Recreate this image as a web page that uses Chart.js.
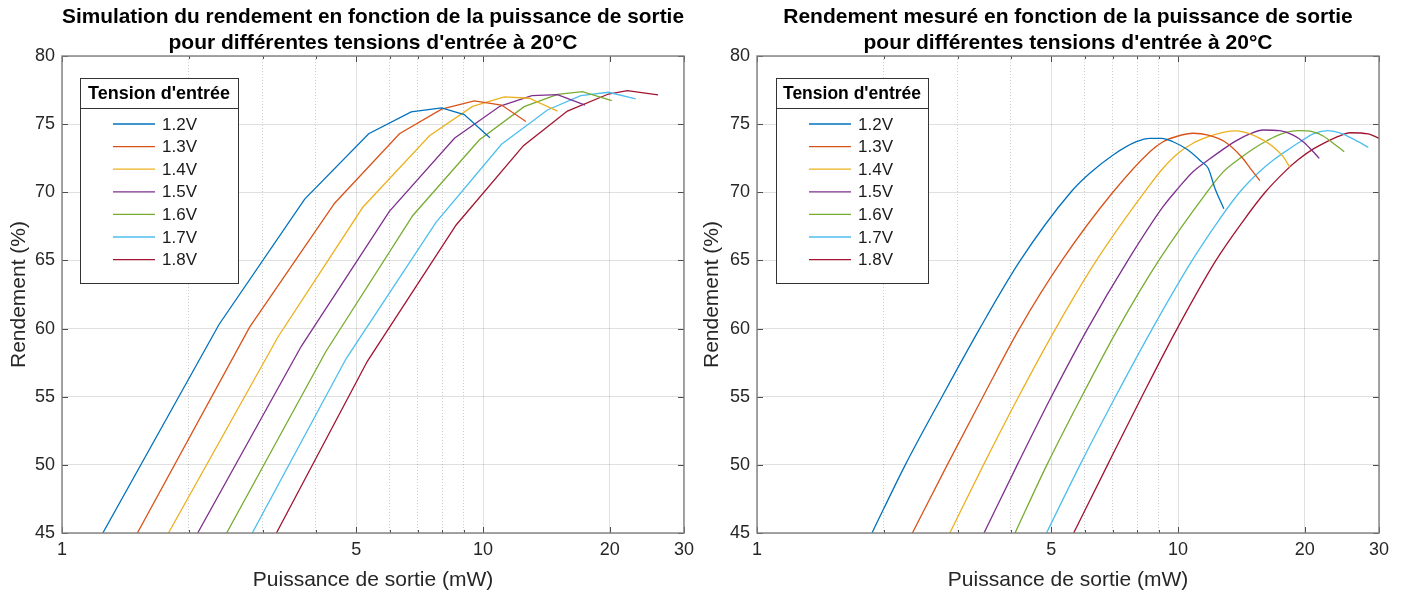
<!DOCTYPE html>
<html>
<head>
<meta charset="utf-8">
<script src="https://cdn.jsdelivr.net/npm/chart.js@4/dist/chart.umd.min.js"></script>
<style>
  html, body { margin: 0; padding: 0; background: #fff; }
  #wrap { position: relative; width: 1405px; height: 594px; }
  #sim { position: absolute; left: 0; top: 0; }
  #mes { position: absolute; left: 700px; top: 0; }
</style>
</head>
<body>
<div id="wrap">
  <canvas id="sim" width="700" height="594"></canvas>
  <canvas id="mes" width="705" height="594"></canvas>
</div>
<script>
// legend labels + MATLAB default line colours
const tensions = ["1.2V", "1.3V", "1.4V", "1.5V", "1.6V", "1.7V", "1.8V"];
const colors = ["#0072BD", "#D95319", "#EDB120", "#7E2F8E", "#77AC30", "#4DBEEE", "#A2142F"];

// x axis (log): grid positions and labelled ticks
const xGrid = [1, 2, 3, 4, 5, 6, 7, 8, 9, 10, 20, 30];
const xLabels = [1, 5, 10, 20, 30];
const yTicks = [45, 50, 55, 60, 65, 70, 75, 80];

// --- simulation (left): output power (mW) / efficiency (%)
const simP12 = [1.25, 2.36, 3.77, 5.35, 6.75, 7.97, 9.02, 10.38];
const simE12 = [45.0, 60.3, 69.5, 74.3, 75.9, 76.2, 75.7, 74.0];
const simP13 = [1.51, 2.79, 4.44, 6.33, 7.97, 9.53, 11.06, 12.64];
const simE13 = [45.0, 60.1, 69.2, 74.3, 76.1, 76.7, 76.4, 75.2];
const simP14 = [1.79, 3.26, 5.18, 7.46, 9.44, 11.23, 12.87, 15.02];
const simE14 = [45.0, 59.4, 68.9, 74.15, 76.3, 77.0, 76.9, 75.96];
const simP15 = [2.10, 3.70, 5.99, 8.55, 10.98, 13.06, 15.02, 17.47];
const simE15 = [45.0, 58.7, 68.6, 73.96, 76.33, 77.09, 77.16, 76.4];
const simP16 = [2.46, 4.23, 6.81, 9.79, 12.52, 15.02, 17.21, 20.21];
const simE16 = [45.0, 58.3, 68.3, 73.84, 76.28, 77.19, 77.38, 76.72];
const simP17 = [2.83, 4.73, 7.73, 11.06, 14.22, 17.06, 19.85, 23.04];
const simE17 = [45.0, 57.8, 67.8, 73.52, 76.04, 77.09, 77.34, 76.85];
const simP18 = [3.23, 5.31, 8.63, 12.47, 15.86, 19.85, 22.0, 26.03];
const simE18 = [45.0, 57.6, 67.6, 73.42, 75.96, 77.21, 77.46, 77.14];

// --- measured (right)
const mesP12 = [1.875, 2.25, 2.75, 3.38, 4.22, 5.56, 6.17, 7.01, 7.96, 8.57, 9.13, 9.73, 10.56, 11.36, 11.79, 12.23, 12.84];
const mesE12 = [45, 50, 55, 60, 65, 70, 71.39, 72.74, 73.71, 73.96, 73.96, 73.71, 73.1, 72.25, 71.76, 70.3, 68.8];
const mesP13 = [2.339, 2.83, 3.44, 4.2, 5.3, 7.0, 8.57, 9.21, 10.0, 10.85, 11.79, 12.91, 14.14, 14.94, 15.64];
const mesE13 = [45, 50, 55, 60, 65, 70, 72.98, 73.71, 74.13, 74.33, 74.2, 73.71, 72.61, 71.64, 70.85];
const mesP14 = [2.87, 3.45, 4.18, 5.12, 6.4, 8.57, 9.21, 10.0, 10.85, 11.79, 12.79, 13.76, 14.8, 15.64, 16.81, 17.77, 18.42];
const mesE14 = [45, 50, 55, 60, 65, 70.54, 71.76, 72.86, 73.6, 74.08, 74.4, 74.5, 74.28, 73.96, 73.35, 72.61, 71.83];
const mesP15 = [3.46, 4.15, 5.0, 6.1, 7.6, 9.21, 10.0, 10.85, 11.79, 12.79, 13.76, 14.8, 15.92, 17.44, 18.76, 19.82, 20.75, 21.64];
const mesE15 = [45, 50, 55, 60, 65, 68.94, 70.29, 71.51, 72.37, 73.15, 73.79, 74.28, 74.57, 74.52, 74.2, 73.71, 73.1, 72.49];
const mesP16 = [4.1, 4.88, 5.9, 7.2, 9.0, 11.7, 12.8, 13.9, 15.1, 16.3, 17.6, 19.3, 20.3, 22.1, 23.35, 24.8];
const mesE16 = [45, 50, 55, 60, 65, 70.0, 71.5, 72.4, 73.2, 73.8, 74.28, 74.52, 74.5, 74.13, 73.6, 72.98];
const mesP17 = [4.87, 5.85, 7.1, 8.69, 10.8, 12.4, 14.0, 15.6, 16.9, 18.4, 19.7, 21.0, 22.7, 24.4, 26.3, 28.3];
const mesE17 = [45, 50, 55, 60, 65, 67.8, 70.0, 71.5, 72.4, 73.2, 73.8, 74.3, 74.52, 74.33, 73.84, 73.3];
const mesP18 = [5.65, 6.8, 8.2, 9.95, 12.3, 14.2, 16.1, 17.9, 19.3, 21.0, 22.5, 24.0, 25.6, 28.3, 30];
const mesE18 = [45, 50, 55, 60, 65, 67.8, 70.0, 71.5, 72.4, 73.2, 73.7, 74.1, 74.37, 74.28, 73.96];

const simSeries = [[simP12, simE12], [simP13, simE13], [simP14, simE14], [simP15, simE15], [simP16, simE16], [simP17, simE17], [simP18, simE18]];
const mesSeries = [[mesP12, mesE12], [mesP13, mesE13], [mesP14, mesE14], [mesP15, mesE15], [mesP16, mesE16], [mesP17, mesE17], [mesP18, mesE18]];

Chart.defaults.font.family = "'Liberation Sans', Arial, Helvetica, sans-serif";
Chart.defaults.color = "#262626";

// MATLAB-like box, inward ticks and boxed legend with a title
const matlabFrame = {
  id: "matlabFrame",
  afterDraw(chart, args, opts) {
    const { ctx, chartArea: a, scales: { x, y } } = chart;
    ctx.save();
    ctx.strokeStyle = "#4d4d4d";
    ctx.lineWidth = 1;
    ctx.beginPath();
    yTicks.forEach(v => {
      const py = Math.round(y.getPixelForValue(v)) + 0.5;
      ctx.moveTo(a.left, py); ctx.lineTo(a.left + 6, py);
      ctx.moveTo(a.right, py); ctx.lineTo(a.right - 6, py);
    });
    xGrid.forEach(v => {
      const px = Math.round(x.getPixelForValue(v)) + 0.5;
      const len = xLabels.includes(v) ? 6 : 3;
      ctx.moveTo(px, a.bottom); ctx.lineTo(px, a.bottom - len);
      ctx.moveTo(px, a.top); ctx.lineTo(px, a.top + len);
    });
    ctx.stroke();

    ctx.strokeStyle = "#7f7f7f";
    ctx.lineWidth = 1.4;
    ctx.strokeRect(a.left, a.top, a.right - a.left, a.bottom - a.top);

    // legend
    const lx = opts.x, ly = opts.y, lw = opts.w, lh = opts.h;
    ctx.fillStyle = "#fff";
    ctx.fillRect(lx, ly, lw, lh);
    ctx.strokeStyle = "#333";
    ctx.lineWidth = 1;
    ctx.strokeRect(lx + 0.5, ly + 0.5, lw, lh);
    ctx.beginPath();
    ctx.moveTo(lx, ly + 30.5); ctx.lineTo(lx + lw, ly + 30.5);
    ctx.stroke();
    ctx.fillStyle = "#000";
    ctx.font = "bold " + opts.titleSize + "px 'Liberation Sans', Arial, sans-serif";
    ctx.textAlign = "center";
    ctx.textBaseline = "middle";
    ctx.fillText("Tension d'entrée", lx + lw / 2, ly + 16);
    ctx.font = "17px 'Liberation Sans', Arial, sans-serif";
    ctx.textAlign = "left";
    chart.data.datasets.forEach((ds, i) => {
      const iy = ly + 46 + i * 22.6;
      ctx.strokeStyle = ds.borderColor;
      ctx.lineWidth = 1.3;
      ctx.beginPath();
      ctx.moveTo(lx + 33, iy); ctx.lineTo(lx + 75, iy);
      ctx.stroke();
      ctx.fillStyle = "#1a1a1a";
      ctx.fillText(ds.label, lx + 82, iy + 1);
    });
    ctx.restore();
  }
};

function makeChart(id, titleLines, series, yWidth, padRight, yTitlePad, smooth, legend) {
  const datasets = series.map((s, i) => ({
    label: tensions[i],
    data: s[0].map((p, k) => ({ x: p, y: s[1][k] })),
    borderColor: colors[i],
    backgroundColor: colors[i],
    borderWidth: 1.3,
    pointRadius: 0,
    tension: 0,
    cubicInterpolationMode: smooth ? "monotone" : "default",
    fill: false
  }));
  return new Chart(document.getElementById(id), {
    type: "line",
    data: { datasets },
    plugins: [matlabFrame],
    options: {
      responsive: false,
      animation: false,
      devicePixelRatio: 1,
      layout: { padding: { left: 0, right: padRight, top: 0, bottom: 0 } },
      plugins: {
        legend: { display: false },
        tooltip: { enabled: false },
        title: {
          display: true,
          text: titleLines,
          fullSize: false,
          color: "#000",
          font: { size: 21, weight: "bold", lineHeight: 1.2 },
          padding: { top: 5, bottom: 0.6 }
        },
        matlabFrame: legend
      },
      scales: {
        x: {
          type: "logarithmic",
          min: 1,
          max: 30,
          afterBuildTicks: scale => { scale.ticks = xGrid.map(v => ({ value: v })); },
          afterFit: scale => { scale.height = 61; },
          ticks: {
            autoSkip: false,
            maxRotation: 0,
            minRotation: 0,
            padding: 6,
            font: { size: 18 },
            color: "#262626",
            callback: v => xLabels.includes(v) ? String(v) : ""
          },
          grid: {
            drawTicks: false,
            color: c => (c.tick && !xLabels.includes(c.tick.value)) ? "rgba(0,0,0,0.2)" : "rgba(0,0,0,0.12)",
            lineWidth: 1
          },
          border: {
            display: false,
            dash: c => (c.tick && !xLabels.includes(c.tick.value)) ? [1, 2] : []
          },
          title: {
            display: true,
            text: "Puissance de sortie (mW)",
            color: "#262626",
            font: { size: 21, lineHeight: 1.2 },
            padding: { top: 0, bottom: 1 }
          }
        },
        y: {
          min: 45,
          max: 80,
          afterBuildTicks: scale => { scale.ticks = yTicks.map(v => ({ value: v })); },
          afterFit: scale => { scale.width = yWidth; },
          ticks: {
            padding: 7,
            font: { size: 18 },
            color: "#262626"
          },
          grid: { drawTicks: false, color: "rgba(0,0,0,0.12)", lineWidth: 1 },
          border: { display: false },
          title: {
            display: true,
            text: "Rendement (%)",
            color: "#262626",
            font: { size: 21, lineHeight: 1.2 },
            padding: { top: yTitlePad, bottom: 0 }
          }
        }
      }
    }
  });
}

makeChart("sim",
  ["Simulation du rendement en fonction de la puissance de sortie", "pour différentes tensions d'entrée à 20°C"],
  simSeries, 62, 15, 7, false,
  { x: 80, y: 78, w: 158, h: 205, titleSize: 18 });

makeChart("mes",
  ["Rendement mesuré en fonction de la puissance de sortie", "pour différentes tensions d'entrée à 20°C"],
  mesSeries, 57, 26, 0, true,
  { x: 76, y: 78, w: 152, h: 205, titleSize: 17.5 });
</script>
</body>
</html>
